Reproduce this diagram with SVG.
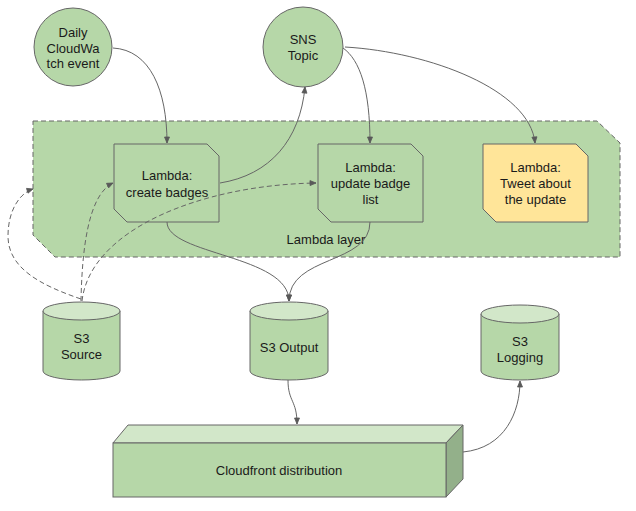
<svg xmlns="http://www.w3.org/2000/svg" width="636" height="511" viewBox="0 0 636 511">
<defs>
<marker id="ah" markerWidth="8" markerHeight="8" refX="7" refY="4" orient="auto" markerUnits="userSpaceOnUse">
<path d="M1,1.5 L7,4 L1,6.5 Z" fill="#595959" stroke="#595959" stroke-width="0.8"/>
</marker>
<style>
.sh{stroke:#666666;stroke-width:1;}
.g{fill:#b6d7a8;}
.gl{fill:#d2e7c9;}
.gd{fill:#93b08a;}
.y{fill:#ffe599;}
.t{font-family:"Liberation Sans",Arial,sans-serif;font-size:13px;fill:#1a1a1a;text-anchor:middle;}
.c{fill:none;stroke:#666666;stroke-width:1;}
.d{stroke-dasharray:5,3;}
</style>
</defs>
<rect width="636" height="511" fill="#ffffff"/>

<g id="lambda-layer">
<path class="g sh d" d="M33,121 H597 L620,143 V257 H55 L33,235 Z"/>
<text class="t" x="326" y="244">Lambda layer</text>
</g>

<g id="cloudwatch">
<circle class="g sh" cx="73" cy="47" r="39"/>
<text class="t" x="73" y="36.5">Daily</text>
<text class="t" x="73" y="52.5">CloudWa</text>
<text class="t" x="73" y="68">tch event</text>
</g>

<g id="sns">
<circle class="g sh" cx="303" cy="47" r="40"/>
<text class="t" x="303" y="43.5">SNS</text>
<text class="t" x="303" y="60">Topic</text>
</g>

<g id="lambda-create">
<path class="g sh" d="M114,144 H207 L219,156 V222 H127 L114,209 Z"/>
<text class="t" x="167" y="180">Lambda:</text>
<text class="t" x="167" y="196.5">create badges</text>
</g>

<g id="lambda-update">
<path class="g sh" d="M318,144 H411 L423,156 V222 H331 L318,209 Z"/>
<text class="t" x="370.5" y="172">Lambda:</text>
<text class="t" x="370.5" y="188">update badge</text>
<text class="t" x="370.5" y="204">list</text>
</g>

<g id="lambda-tweet">
<path class="y sh" d="M483,144 H576 L588,156 V222 H496 L483,209 Z"/>
<text class="t" x="535.5" y="172">Lambda:</text>
<text class="t" x="535.5" y="188">Tweet about</text>
<text class="t" x="535.5" y="204">the update</text>
</g>

<g id="s3-source">
<path class="g sh" d="M43,311 V371 A38.5,9 0 0 0 120,371 V311"/>
<ellipse class="gl sh" cx="81.5" cy="311" rx="38.5" ry="9"/>
<text class="t" x="81.5" y="342.5">S3</text>
<text class="t" x="81.5" y="358.5">Source</text>
</g>

<g id="s3-output">
<path class="g sh" d="M250,311 V371 A39,9 0 0 0 328,371 V311"/>
<ellipse class="gl sh" cx="289" cy="311" rx="39" ry="9"/>
<text class="t" x="289" y="351.5">S3 Output</text>
</g>

<g id="s3-logging">
<path class="g sh" d="M481,314 V371 A39,9 0 0 0 559,371 V314"/>
<ellipse class="gl sh" cx="520" cy="314" rx="39" ry="9"/>
<text class="t" x="520" y="345.5">S3</text>
<text class="t" x="520" y="361.5">Logging</text>
</g>

<g id="cloudfront">
<path class="gl sh" d="M113,443 L128,425 H463 L446,443 Z"/>
<path class="gd sh" d="M446,443 L463,425 V479 L446,497 Z"/>
<rect class="g sh" x="113" y="443" width="333" height="54"/>
<text class="t" x="279" y="474.5">Cloudfront distribution</text>
</g>

<g id="connectors">
<path class="c" marker-end="url(#ah)" d="M113,48 C150,50 167,90 167,143"/>
<path class="c" marker-end="url(#ah)" d="M220,183 C270,175 300,140 305,87"/>
<path class="c" marker-end="url(#ah)" d="M343,48 C360,60 370,90 370,143"/>
<path class="c" marker-end="url(#ah)" d="M345,47 C430,52 530,90 535,143"/>
<path class="c" marker-end="url(#ah)" d="M167,222 C167,255 289,255 289,301"/>
<path class="c" marker-end="url(#ah)" d="M370,222 C370,265 289,255 289,301"/>
<path class="c" marker-end="url(#ah)" d="M288,380 C288,402 297,400 297,424"/>
<path class="c" marker-end="url(#ah)" d="M463,452 C505,448 520,412 520,381"/>
<path class="c d" marker-end="url(#ah)" d="M81,301 C82,250 88,195 113,183"/>
<path class="c d" marker-end="url(#ah)" d="M82,301 C90,230 200,185 316,183"/>
<path class="c d" marker-end="url(#ah)" d="M81,299 C40,285 8,268 8,236 C8,210 20,193 33,189"/>
</g>
</svg>
